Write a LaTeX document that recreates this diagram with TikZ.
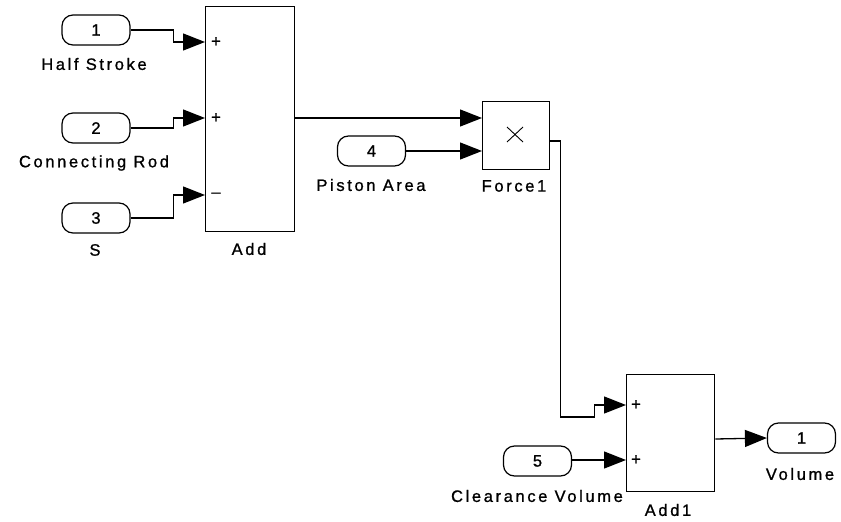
\documentclass[tikz,border=0pt]{standalone}
\usepackage{fontspec}
\setmainfont{Liberation Sans}[LetterSpace=16,FakeBold=1]
\usetikzlibrary{arrows.meta,calc}
\begin{document}
\begin{tikzpicture}[x=1pt,y=-1pt,
  block/.style={draw,line width=1.3pt,inner sep=0pt,anchor=north west},
  port/.style={draw,line width=1.2pt,rounded corners=11pt,minimum width=68pt,minimum height=30pt,inner sep=0pt,font=\fontsize{16.5}{16.5}\selectfont},
  lbl/.style={font=\fontsize{16.5}{16.5}\selectfont,inner sep=0pt},
  sgn/.style={font=\fontsize{16.5}{16.5}\selectfont,inner sep=0pt},
  conn/.style={line width=1.3pt,-{Triangle[length=22pt,width=17pt]}},
  wire/.style={line width=1.3pt}]
\useasboundingbox (0,0) rectangle (841,522);
% blocks
\node[block,minimum width=89pt,minimum height=225pt] (add) at (205,6) {};
\node[block,minimum width=67pt,minimum height=68pt] (force) at (482,101) {};
\node[block,minimum width=88pt,minimum height=117pt] (add1) at (626,374) {};
% ports
\node[port] (in1) at (96,30) {1};
\node[port] (in2) at (96,128) {2};
\node[port] (in3) at (96,218) {3};
\node[port] (in4) at (371.5,151) {4};
\node[port] (in5) at (537.5,461) {5};
\node[port] (out1) at (801.5,438) {1};
% port labels
\node[lbl] (l1) at (94,64) {Half Stroke};
\node[lbl] (l2) at (94,163) {Connecting Rod};
\node[lbl] (l3) at (95,250) {S};
\node[lbl] (l4) at (371,185) {Piston Area};
\node[lbl] (l5) at (537,496) {Clearance Volume};
\node[lbl] (l6) at (800,474) {Volume};
% block labels
\node[lbl] (ladd) at (249,249) {Add};
\node[lbl] (lforce) at (514,186) {Force1};
\node[lbl] (ladd1) at (668,510) {Add1};
% input port coordinates
\coordinate (a1) at (add.west |- 0,42);
\coordinate (a2) at (add.west |- 0,118);
\coordinate (a3) at (add.west |- 0,195);
\coordinate (ao) at (add.east |- 0,118);
\coordinate (f1) at (force.west |- 0,118);
\coordinate (f2) at (force.west |- 0,151);
\coordinate (fo) at (force.east |- 0,141);
\coordinate (b1) at (add1.west |- 0,405);
\coordinate (b2) at (add1.west |- 0,460);
\coordinate (bo) at (add1.east |- 0,439);
% signs
\node[sgn] (s1) at (216,42) {+};
\node[sgn] (s2) at (216,118) {+};
\node[sgn] (s3) at (216,195) {\textendash};
\node[sgn] (s4) at (636,405) {+};
\node[sgn] (s5) at (636,460) {+};
% product sign
\draw[line width=0.9pt] (507,127) -- (523,142) (507,142) -- (523,127);
% connectors
\draw[conn] (in1.east) -- ++(43,0) |- (a1);
\draw[conn] (in2.east) -- ++(43,0) |- (a2);
\draw[conn] (in3.east) -- ++(43,0) |- (a3);
\draw[conn] (ao) -- (f1);
\draw[conn] (in4.east |- 0,151) -- (f2);
\draw[conn] (fo) -- ++(10,0) -- ++(0,276) -- ++(34,0) |- (b1);
\draw[conn] (in5.east |- 0,460) -- (b2);
\draw[conn] (bo) -- (out1.west);
\end{tikzpicture}
\end{document}
